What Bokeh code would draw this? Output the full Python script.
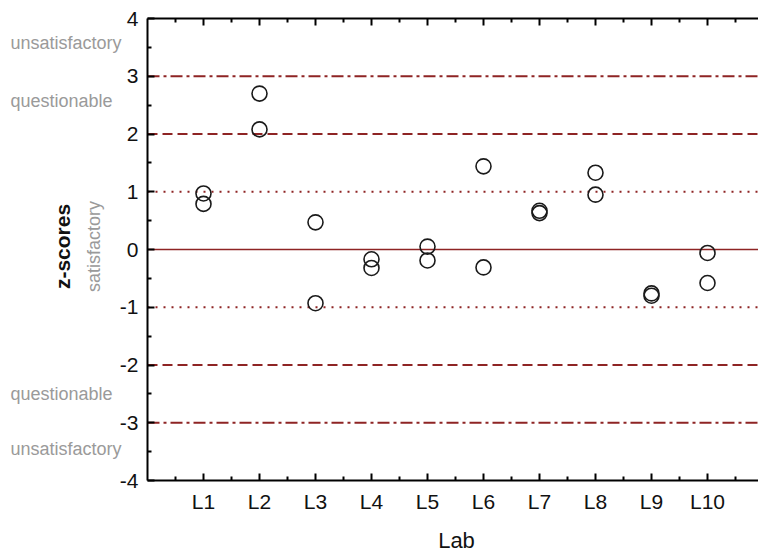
import math
from bokeh.plotting import figure
from bokeh.models import (FixedTicker, LinearAxis, Label, Range1d, ColumnDataSource,
                          CustomLabelingPolicy)
from bokeh.embed import file_html
from bokeh.resources import INLINE

# ---- data ----
labs = ["L1", "L2", "L3", "L4", "L5", "L6", "L7", "L8", "L9", "L10"]
z_first = [0.97, 2.70, 0.47, -0.17, 0.05, 1.44, 0.67, 1.33, -0.76, -0.06]
z_second = [0.79, 2.08, -0.93, -0.32, -0.19, -0.31, 0.63, 0.95, -0.80, -0.58]
limit_levels = [0, 1, -1, 2, -2, 3, -3]
y_ticks = [-4, -3, -2, -1, 0, 1, 2, 3, 4]
zone_labels = ["unsatisfactory", "questionable", "questionable", "unsatisfactory"]
zone_y = [3.57, 2.58, -2.51, -3.45]

FONT = "Liberation Sans"
RED = "#8E2424"
GRAY = "#9a9a9a"

# ---- layout (pixels of the 758x558 canvas) ----
W, H = 758, 558
AX_L, AX_T, AX_B = 147, 18, 480          # axes box left / top / bottom
PX_X = 56.0                              # pixels per lab
YMIN, YMAX = y_ticks[0], y_ticks[-1]
PX_Y = (AX_B - AX_T) / (YMAX - YMIN)
x0 = -AX_L / PX_X
x1 = (W - AX_L) / PX_X
y1 = YMAX + AX_T / PX_Y
y0 = YMIN - (H - AX_B) / PX_Y
def dx(px):  # canvas px -> data x
    return (px - AX_L) / PX_X
def dy(py):  # canvas px -> data y
    return YMAX - (py - AX_T) / PX_Y

pos = list(range(1, len(labs) + 1))
src = ColumnDataSource(dict(x=pos + pos, z=z_first + z_second))

p = figure(width=W, height=H, x_range=Range1d(x0, x1), y_range=Range1d(y0, y1),
           output_backend="svg", toolbar_location=None,
           min_border=0, x_axis_type=None, y_axis_type=None)
p.outline_line_color = None
p.background_fill_color = "white"
p.border_fill_color = "white"

xticker = FixedTicker(ticks=pos, minor_ticks=[i + 0.5 for i in range(0, len(labs) + 1)])
yticker = FixedTicker(ticks=y_ticks, minor_ticks=[t + 0.5 for t in y_ticks[:-1]])

tick_style = dict(major_tick_out=0, minor_tick_out=0, axis_line_width=2,
                  major_tick_line_width=2, minor_tick_line_width=2,
                  major_tick_in=7, minor_tick_in=4)

# bottom axis
xa = LinearAxis(ticker=xticker, fixed_location=YMIN, bounds=(0, x1),
                major_label_overrides={i: l for i, l in zip(pos, labs)},
                major_label_standoff=9, major_label_text_font=FONT,
                major_label_text_font_size="21px", major_label_text_color="#111",
                **tick_style)
p.add_layout(xa, "below")

# left axis
ya = LinearAxis(ticker=yticker, fixed_location=0, bounds=(YMIN, YMAX),
                major_label_overrides={t: str(t) for t in y_ticks},
                major_label_standoff=9, major_label_text_font=FONT,
                major_label_text_font_size="21px", major_label_text_color="#111",
                **tick_style)
p.add_layout(ya, "left")

# top axis (ticks only, no labels)
no_labels = CustomLabelingPolicy(code="""
for (const i of indices) { indices.unset(i) }
return indices
""")
ta = LinearAxis(ticker=xticker, fixed_location=YMAX, bounds=(0, x1),
                major_label_policy=no_labels, major_label_standoff=0,
                **tick_style)
p.add_layout(ta, "above")

# vertical dotted grid
p.xgrid.ticker = xticker
p.xgrid.bounds = (YMIN, YMAX)
p.xgrid.grid_line_color = "#c4c4c4"
p.xgrid.grid_line_dash = "2 3"
p.xgrid.grid_line_width = 1
p.ygrid.visible = False

# reference lines (from the axis line to the right edge)
dash_for = {0: "solid", 1: "2 6", 2: "10 5", 3: "12 4 3 4"}
for lv in limit_levels:
    a = abs(lv)
    p.segment(x0=[0], y0=[lv], x1=[x1], y1=[lv], line_color=RED,
              line_width=1.5 if a == 0 else 2, line_dash=dash_for[a])

p.scatter("x", "z", source=src, marker="circle", size=15, fill_color=None,
          line_color="#1a1a1a", line_width=1.6)

# zone labels
for txt, yv in zip(zone_labels, zone_y):
    p.add_layout(Label(x=dx(10), y=yv, text=txt,
                       text_font=FONT, text_font_size="18px", text_color=GRAY,
                       text_baseline="middle", text_align="left"))

p.add_layout(Label(x=dx(93), y=dy(246), text="satisfactory",
                   angle=math.pi / 2, text_font=FONT, text_font_size="18px", text_color=GRAY,
                   text_baseline="middle", text_align="center"))
p.add_layout(Label(x=dx(62), y=dy(246), text="z-scores",
                   angle=math.pi / 2, text_font=FONT, text_font_size="21px", text_font_style="bold",
                   text_color="#111", text_baseline="middle", text_align="center"))
p.add_layout(Label(x=dx(456), y=dy(540), text="Lab",
                   text_font=FONT, text_font_size="22px", text_color="#111",
                   text_baseline="middle", text_align="center"))

open("out.html", "w").write(file_html(p, INLINE))
